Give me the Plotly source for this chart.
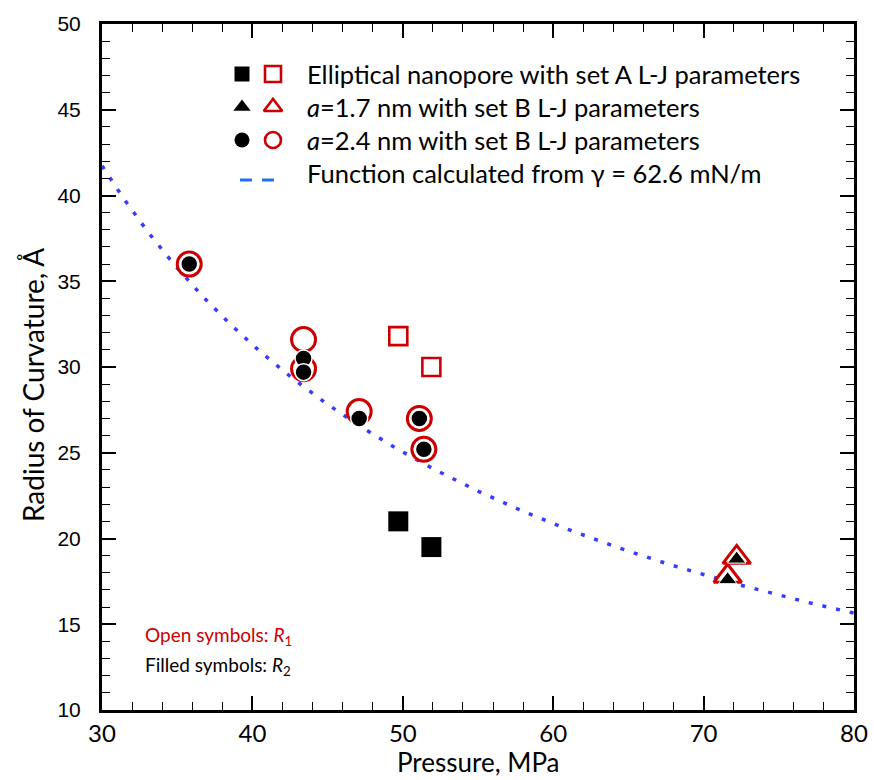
import numpy as np
import plotly.graph_objects as go

# ---- data -------------------------------------------------------------
# Elliptical nanopore, set A L-J parameters (squares)
pressure_sq = [49.7, 51.9]
r1_sq = [31.8, 30.0]
r2_sq = [21.0, 19.5]

# a = 1.7 nm, set B L-J parameters (triangles)
pressure_tri = [71.6, 72.2]
r1_tri = [17.8, 18.9]
r2_tri = [17.6, 18.8]

# a = 2.4 nm, set B L-J parameters (circles)
pressure_circ = [35.8, 43.4, 43.4, 47.1, 51.1, 51.4]
r1_circ = [36.0, 31.6, 29.9, 27.4, 27.0, 25.2]
r2_circ = [36.0, 30.5, 29.7, 27.0, 27.0, 25.2]

# Young-Laplace curve R = 2*gamma/P  (gamma in mN/m, P in MPa -> nm, x10 -> Angstrom)
gamma = 62.6
p_curve = np.linspace(30, 80, 400)
r_curve = 2 * gamma / p_curve * 10

legend_labels = [
    "Elliptical nanopore with set A L-J parameters",
    "<i>a</i>=1.7 nm with set B L-J parameters",
    "<i>a</i>=2.4 nm with set B L-J parameters",
    "Function calculated from \u03b3 = 62.6 mN/m",
]

# ---- styling ----------------------------------------------------------
RED = "#cc0000"
BLUE_DOT = "#3a3aff"
BLUE_KEY = "#1f6fff"
TXT_FONT = "Lato"

W_FIG, H_FIG = 874, 780
L, R, T, B = 102, 854, 24, 710


def paper_x(px):
    return (px - L) / (R - L)


def paper_y(py):
    return (B - py) / (B - T)


fig = go.Figure()

fig.add_trace(go.Scatter(
    x=p_curve, y=r_curve, mode="lines",
    line=dict(color=BLUE_DOT, width=3.5, dash="4px,10px"),
    hoverinfo="skip", showlegend=False,
))

# open symbols: R1
fig.add_trace(go.Scatter(
    x=pressure_sq, y=r1_sq, mode="markers", showlegend=False,
    marker=dict(symbol="square", size=18, color="white", line=dict(color=RED, width=2.6)),
))
fig.add_trace(go.Scatter(
    x=pressure_tri, y=r1_tri, mode="markers", showlegend=False,
    marker=dict(symbol="triangle-up", size=24, color="white", line=dict(color=RED, width=3)),
))
fig.add_trace(go.Scatter(
    x=pressure_circ, y=r1_circ, mode="markers", showlegend=False,
    marker=dict(symbol="circle", size=24, color="white", line=dict(color=RED, width=3)),
))

# filled symbols: R2
fig.add_trace(go.Scatter(
    x=pressure_sq, y=r2_sq, mode="markers", showlegend=False,
    marker=dict(symbol="square", size=20, color="black", line=dict(width=0)),
))
fig.add_trace(go.Scatter(
    x=pressure_tri, y=r2_tri, mode="markers", showlegend=False,
    marker=dict(symbol="triangle-up", size=16, color="black", line=dict(color="white", width=1)),
))
fig.add_trace(go.Scatter(
    x=pressure_circ, y=r2_circ, mode="markers", showlegend=False,
    marker=dict(symbol="circle", size=17, color="black", line=dict(color="white", width=1.5)),
))

# ---- legend keys on an overlay axis spanning the plot area (0..1) ------
row_y = [74, 107, 140, 173]
key_filled_x = 242
key_open_x = 273
key_symbols = ["square", "triangle-up", "circle"]
for sym, py in zip(key_symbols, row_y[:3]):
    fig.add_trace(go.Scatter(
        x=[paper_x(key_filled_x)], y=[paper_y(py)], xaxis="x2", yaxis="y2",
        mode="markers", showlegend=False, hoverinfo="skip",
        marker=dict(symbol=sym, size=15, color="black"),
    ))
    fig.add_trace(go.Scatter(
        x=[paper_x(key_open_x)], y=[paper_y(py)], xaxis="x2", yaxis="y2",
        mode="markers", showlegend=False, hoverinfo="skip",
        marker=dict(symbol=sym, size=16, color="white", line=dict(color=RED, width=2.6)),
    ))

# empty trace carrying the top/right tick axes
fig.add_trace(go.Scatter(x=[], y=[], xaxis="x3", yaxis="y3", showlegend=False))

shapes = []
for x0, x1 in [(240, 252), (262, 274)]:
    shapes.append(dict(
        type="line", xref="paper", yref="paper",
        x0=paper_x(x0), x1=paper_x(x1), y0=paper_y(180), y1=paper_y(180),
        line=dict(color=BLUE_KEY, width=3),
    ))

annotations = []
for label, py in zip(legend_labels, row_y):
    annotations.append(dict(
        text=label, xref="paper", yref="paper", x=paper_x(305), y=paper_y(py),
        xanchor="left", yanchor="middle", showarrow=False,
        font=dict(family=TXT_FONT, size=25.5, color="black"),
    ))

annotations.append(dict(
    text="Open symbols: <i>R</i><sub>1</sub>", xref="paper", yref="paper",
    x=paper_x(143), y=paper_y(636), xanchor="left", yanchor="middle", showarrow=False,
    font=dict(family=TXT_FONT, size=19, color=RED),
))
annotations.append(dict(
    text="Filled symbols: <i>R</i><sub>2</sub>", xref="paper", yref="paper",
    x=paper_x(143), y=paper_y(666), xanchor="left", yanchor="middle", showarrow=False,
    font=dict(family=TXT_FONT, size=19, color="black"),
))

# axis titles
annotations.append(dict(
    text="Pressure, MPa", xref="paper", yref="paper",
    x=paper_x(478), y=paper_y(779), xanchor="center", yanchor="bottom", showarrow=False,
    borderpad=0, font=dict(family=TXT_FONT, size=26, color="black"),
))
annotations.append(dict(
    text="Radius of Curvature, \u00c5", xref="paper", yref="paper", textangle=-90,
    x=paper_x(33), y=paper_y(385), xanchor="center", yanchor="middle", showarrow=False,
    font=dict(family=TXT_FONT, size=28, color="black"),
))

axis_common = dict(
    showgrid=False, zeroline=False, automargin=False,
    ticks="inside", tickcolor="black", tickwidth=1.5, ticklen=14,
)
x_minor = dict(dtick=2, ticks="inside", ticklen=8, tickwidth=1.2, tickcolor="black")
y_minor = dict(dtick=1, ticks="inside", ticklen=8, tickwidth=1.2, tickcolor="black")

fig.update_layout(
    width=W_FIG, height=H_FIG,
    margin=dict(l=L, r=W_FIG - R, t=T, b=H_FIG - B),
    paper_bgcolor="white", plot_bgcolor="white",
    xaxis=dict(
        range=[30, 80], tick0=30, dtick=10, **axis_common,
        showline=True, linecolor="black", linewidth=3, mirror=True,
        minor=x_minor,
        tickfont=dict(family=TXT_FONT, size=24, color="black"),
        ticklabelstandoff=0,
    ),
    yaxis=dict(
        range=[10, 50], tick0=10, dtick=5, **axis_common,
        showline=True, linecolor="black", linewidth=3, mirror=True,
        minor=y_minor,
        tickfont=dict(family="Liberation Sans", size=21, color="black"),
        ticklabelstandoff=14,
    ),
    xaxis2=dict(overlaying="x", range=[0, 1], visible=False, fixedrange=True),
    yaxis2=dict(overlaying="y", range=[0, 1], visible=False, fixedrange=True),
    xaxis3=dict(
        overlaying="x", side="top", range=[30, 80], tick0=30, dtick=10,
        **axis_common, showline=False, showticklabels=False, minor=x_minor,
    ),
    yaxis3=dict(
        overlaying="y", side="right", range=[10, 50], tick0=10, dtick=5,
        **axis_common, showline=False, showticklabels=False, minor=y_minor,
    ),
    shapes=shapes,
    annotations=annotations,
    showlegend=False,
)

fig.write_html("out.html")
